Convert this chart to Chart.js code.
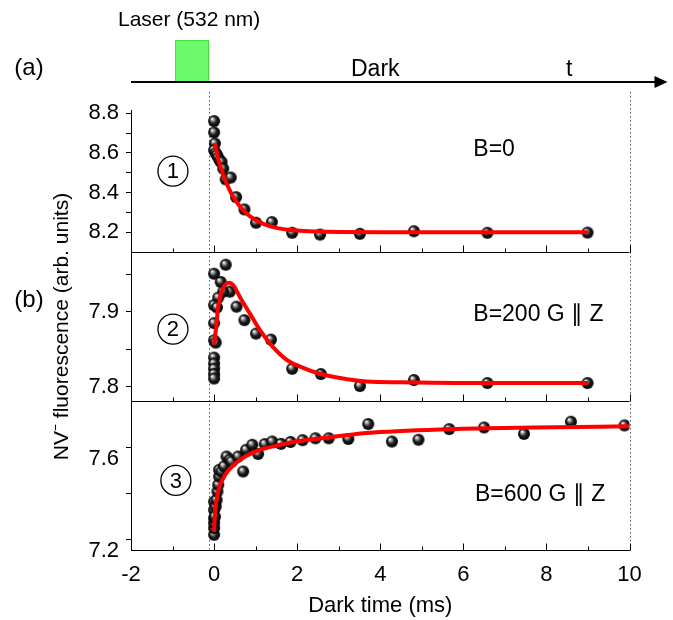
<!DOCTYPE html>
<html>
<head>
<meta charset="utf-8">
<script src="https://cdn.jsdelivr.net/npm/chart.js@4.4.1/dist/chart.umd.min.js"></script>
<style>
  body { margin: 0; background: #fff; }
  #wrap { width: 673px; height: 620px; }
</style>
</head>
<body>
<div id="wrap"><canvas id="chart" width="673" height="620"></canvas></div>
<script>
// shared x axis (dark time, ms)
const xTickValues = [-2, 0, 2, 4, 6, 8, 10];
const xMinorTicks = [-1, 1, 3, 5, 7, 9];

// panel 1: B=0
const p1Ticks = [8.2, 8.3, 8.4, 8.5, 8.6, 8.7, 8.8];
const p1Labels = [8.2, 8.4, 8.6, 8.8];
const p1X = [0, 0, 0.02, 0, 0.04, 0.07, 0.1, 0.14, 0.18, 0.22, 0.28, 0.4, 0.53, 0.73, 1.01, 1.39, 1.88, 2.55, 3.51, 4.81, 6.58, 8.99];
const p1Y = [8.761, 8.704, 8.648, 8.614, 8.599, 8.59, 8.577, 8.56, 8.555, 8.521, 8.467, 8.476, 8.377, 8.315, 8.248, 8.251, 8.197, 8.188, 8.192, 8.205, 8.197, 8.198];
const fit1X = [0.02, 0.1, 0.2, 0.3, 0.4, 0.6, 0.8, 1.0, 1.2, 1.5, 2.0, 2.5, 3.0, 4.0, 6.0, 9.0];
const fit1Y = [8.65, 8.568, 8.502, 8.447, 8.402, 8.336, 8.291, 8.262, 8.241, 8.222, 8.208, 8.203, 8.201, 8.2, 8.2, 8.2];

// panel 2: B=200 G || Z
const p2Ticks = [7.8, 7.85, 7.9, 7.95];
const p2Labels = [7.8, 7.9];
const p2X = [0.28, 0, 0.16, 0.38, 0.22, 0.1, 0, 0.07, 0.54, 0, 0.73, 0, 0.04, 1.01, 1.37, 0, 0, 0, 0, 0, 1.88, 2.57, 3.51, 4.81, 6.58, 8.99];
const p2Y = [7.963, 7.951, 7.94, 7.927, 7.927, 7.919, 7.909, 7.906, 7.907, 7.885, 7.889, 7.862, 7.859, 7.871, 7.863, 7.839, 7.831, 7.824, 7.817, 7.811, 7.824, 7.817, 7.801, 7.809, 7.805, 7.805];
const fit2X = [0, 0.05, 0.1, 0.18, 0.26, 0.36, 0.46, 0.62, 0.86, 1.1, 1.42, 1.75, 2.07, 2.57, 3.0, 3.67, 4.5, 6.0, 9.0];
const fit2Y = [7.856, 7.88, 7.907, 7.927, 7.936, 7.939, 7.936, 7.92, 7.898, 7.876, 7.853, 7.836, 7.827, 7.817, 7.812, 7.807, 7.806, 7.805, 7.805];

// panel 3: B=600 G || Z
const p3Ticks = [7.2, 7.4, 7.6];
const p3Labels = [7.2, 7.6];
const p3X = [0, 0, 0, 0, 0, 0, 0.02, 0.04, 0.06, 0.08, 0.1, 0.12, 0.12, 0.18, 0.24, 0.3, 0.38, 0.42, 0.58, 0.7, 0.77, 0.92, 1.06, 1.22, 1.4, 1.61, 1.84, 2.13, 2.44, 2.76, 3.23, 3.71, 4.28, 4.92, 5.66, 6.5, 7.46, 8.59, 9.88];
const p3Y = [7.219, 7.248, 7.27, 7.291, 7.327, 7.363, 7.298, 7.342, 7.37, 7.407, 7.436, 7.472, 7.501, 7.494, 7.516, 7.559, 7.545, 7.537, 7.559, 7.494, 7.588, 7.61, 7.57, 7.613, 7.624, 7.614, 7.622, 7.63, 7.638, 7.638, 7.635, 7.7, 7.624, 7.632, 7.678, 7.685, 7.657, 7.71, 7.694];
const fit3X = [0, 0.02, 0.06, 0.12, 0.2, 0.34, 0.54, 0.78, 1.1, 1.5, 2.0, 2.5, 3.67, 5.68, 7.69, 10];
const fit3Y = [7.233, 7.313, 7.371, 7.422, 7.458, 7.498, 7.533, 7.562, 7.588, 7.606, 7.625, 7.636, 7.661, 7.678, 7.685, 7.69];

const FONT = "'Liberation Sans', Arial, sans-serif";
const tickFont = { family: FONT, size: 22 };

function pairs(xs, ys) {
  return xs.map((x, i) => ({ x: x, y: ys[i] }));
}

// little shaded ball used as the point marker
function makeSphere(r) {
  const c = document.createElement("canvas");
  c.width = c.height = r * 2 + 2;
  const g = c.getContext("2d");
  const cx = r + 1;
  const grad = g.createRadialGradient(cx - r * 0.35, cx - r * 0.4, 0.3, cx, cx, r);
  grad.addColorStop(0, "#ffffff");
  grad.addColorStop(0.22, "#a0a0a0");
  grad.addColorStop(0.55, "#202020");
  grad.addColorStop(1, "#000000");
  g.fillStyle = grad;
  g.beginPath();
  g.arc(cx, cx, r, 0, Math.PI * 2);
  g.fill();
  return c;
}
const sphere = makeSphere(6);

function yAxis(ticks, labels, min, max, weight, stackWeight, labelOffset, title) {
  return {
    type: "linear",
    position: "left",
    stack: "panels",
    stackWeight: stackWeight,
    weight: weight,
    min: min,
    max: max,
    afterBuildTicks: (axis) => {
      axis.ticks = ticks.map((v) => ({ value: v }));
    },
    afterFit: (axis) => {
      axis.width = 131;
    },
    ticks: {
      font: tickFont,
      color: "#000",
      padding: 7,
      autoSkip: false,
      labelOffset: labelOffset,
      callback: (v) => (labels.includes(v) ? v.toFixed(1) : ""),
    },
    grid: { drawOnChartArea: false, tickLength: 5, color: "#000" },
    border: { color: "#000", width: 1 },
    title: title || { display: false },
  };
}

function dots(xs, ys, axis) {
  return {
    type: "scatter",
    data: pairs(xs, ys),
    yAxisID: axis,
    pointStyle: sphere,
    pointRadius: 6,
    order: 2,
  };
}

function fit(xs, ys, axis) {
  return {
    type: "line",
    data: pairs(xs, ys),
    yAxisID: axis,
    borderColor: "#ff0000",
    borderWidth: 4,
    pointRadius: 0,
    cubicInterpolationMode: "monotone",
    order: 1,
  };
}

const panelNotes = [
  { axis: "y1", num: "1", cx: -0.99, cy: 8.508, text: "B=0", tx: 6.24, ty: 8.619 },
  { axis: "y2", num: "2", cx: -0.99, cy: 7.877, text: "B=200 G \u2225 Z", tx: 6.24, ty: 7.896 },
  { axis: "y3", num: "3", cx: -0.92, cy: 7.455, text: "B=600 G \u2225 Z", tx: 6.28, ty: 7.393 },
];

const decorations = {
  id: "decorations",
  beforeDatasetsDraw(chart) {
    const { ctx, chartArea, scales } = chart;
    const arrowY = chartArea.top - 28;
    ctx.save();
    ctx.strokeStyle = "#555";
    ctx.lineWidth = 1;
    ctx.setLineDash([1.5, 2.5]);
    for (const v of [-0.12, 10]) {
      const px = Math.round(scales.x.getPixelForValue(v)) + 0.5;
      ctx.beginPath();
      ctx.moveTo(px, arrowY + 10);
      ctx.lineTo(px, chartArea.bottom);
      ctx.stroke();
    }
    ctx.restore();
  },
  afterDraw(chart) {
    const { ctx, chartArea, scales } = chart;
    const x = scales.x;
    ctx.save();
    ctx.strokeStyle = "#000";
    ctx.fillStyle = "#000";
    ctx.lineWidth = 1;

    // panel separators and inward x ticks
    const bottoms = [scales.y1.bottom, scales.y2.bottom, chartArea.bottom];
    bottoms.forEach((b, i) => {
      const yy = Math.round(b) + 0.5;
      if (i < 2) {
        ctx.beginPath();
        ctx.moveTo(chartArea.left, yy);
        ctx.lineTo(chartArea.right, yy);
        ctx.stroke();
      }
      ctx.beginPath();
      for (const v of xTickValues) {
        const px = Math.round(x.getPixelForValue(v)) + 0.5;
        ctx.moveTo(px, yy);
        ctx.lineTo(px, yy - 7);
      }
      for (const v of xMinorTicks) {
        const px = Math.round(x.getPixelForValue(v)) + 0.5;
        ctx.moveTo(px, yy);
        ctx.lineTo(px, yy - 4);
      }
      ctx.stroke();
    });

    // circled panel numbers and field labels
    ctx.textBaseline = "middle";
    for (const n of panelNotes) {
      const ys = scales[n.axis];
      const cx = x.getPixelForValue(n.cx);
      const cy = ys.getPixelForValue(n.cy);
      ctx.lineWidth = 1.3;
      ctx.beginPath();
      ctx.arc(cx, cy, 15, 0, Math.PI * 2);
      ctx.stroke();
      ctx.font = "22px " + FONT;
      ctx.textAlign = "center";
      ctx.fillText(n.num, cx, cy + 1);
      ctx.textAlign = "left";
      ctx.font = "23px " + FONT;
      ctx.fillText(n.text, x.getPixelForValue(n.tx), ys.getPixelForValue(n.ty));
    }

    // (a) timing diagram
    const arrowY = chartArea.top - 28;
    const boxL = x.getPixelForValue(-0.94);
    const boxR = x.getPixelForValue(-0.12);
    ctx.fillStyle = "#6cfa6c";
    ctx.strokeStyle = "#3fe03f";
    ctx.lineWidth = 1;
    ctx.fillRect(boxL, arrowY - 42, boxR - boxL, 42);
    ctx.strokeRect(boxL + 0.5, arrowY - 41.5, boxR - boxL - 1, 41);

    ctx.strokeStyle = "#000";
    ctx.fillStyle = "#000";
    ctx.lineWidth = 2;
    const tip = chartArea.right + 38;
    ctx.beginPath();
    ctx.moveTo(chartArea.left, arrowY);
    ctx.lineTo(tip - 10, arrowY);
    ctx.stroke();
    ctx.beginPath();
    ctx.moveTo(tip, arrowY);
    ctx.lineTo(tip - 13, arrowY - 6);
    ctx.lineTo(tip - 13, arrowY + 6);
    ctx.closePath();
    ctx.fill();

    ctx.textAlign = "center";
    ctx.font = "21px " + FONT;
    ctx.fillText("Laser (532 nm)", x.getPixelForValue(-0.6), 20);
    ctx.font = "23px " + FONT;
    ctx.fillText("Dark", x.getPixelForValue(3.88), arrowY - 12);
    ctx.fillText("t", x.getPixelForValue(8.55), arrowY - 12);
    ctx.font = "24px " + FONT;
    ctx.fillText("(a)", 29, arrowY - 14);
    ctx.fillText("(b)", 29, 300);
    ctx.restore();
  },
};

new Chart(document.getElementById("chart"), {
  type: "scatter",
  data: {
    datasets: [
      dots(p1X, p1Y, "y1"),
      fit(fit1X, fit1Y, "y1"),
      dots(p2X, p2Y, "y2"),
      fit(fit2X, fit2Y, "y2"),
      dots(p3X, p3Y, "y3"),
      fit(fit3X, fit3Y, "y3"),
    ],
  },
  options: {
    responsive: false,
    animation: false,
    devicePixelRatio: 1,
    layout: { padding: { left: 0, right: 43.5, top: 110, bottom: 0 } },
    plugins: { legend: { display: false }, tooltip: { enabled: false } },
    scales: {
      x: {
        type: "linear",
        min: -2,
        max: 10,
        afterBuildTicks: (axis) => {
          axis.ticks = xTickValues.map((v) => ({ value: v }));
        },
        afterFit: (axis) => {
          axis.height = 70;
        },
        ticks: { font: tickFont, color: "#000", padding: 12, callback: (v) => String(v) },
        grid: { display: false, drawTicks: false },
        border: { color: "#000", width: 1 },
        title: {
          display: true,
          text: "Dark time (ms)",
          color: "#000",
          font: { family: FONT, size: 22 },
          padding: { top: 0, bottom: 1 },
        },
      },
      y1: yAxis(p1Ticks, p1Labels, 8.1, 8.817, 3, 142, 0),
      y2: yAxis(p2Ticks, p2Labels, 7.781, 7.98, 2, 149, 0, {
        display: true,
        text: "NV\u207B fluorescence (arb. units)",
        color: "#000",
        font: { family: FONT, size: 21 },
        padding: { top: 50, bottom: 0 },
      }),
      y3: yAxis(p3Ticks, p3Labels, 7.153, 7.8, 1, 149, 12),
    },
  },
  plugins: [decorations],
});
</script>
</body>
</html>
